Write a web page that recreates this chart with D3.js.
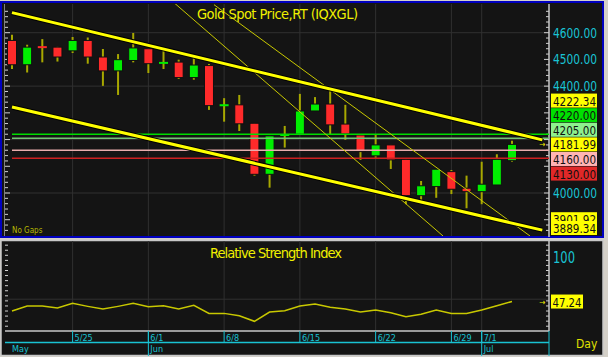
<!DOCTYPE html>
<html>
<head>
<meta charset="utf-8">
<script src="https://cdn.jsdelivr.net/npm/d3@7"></script>
<style>
  html, body { margin: 0; padding: 0; background: #d4d0c8; }
  svg { display: block; }
  text { font-family: "Liberation Sans Narrow", "Arial Narrow", "DejaVu Sans Condensed", sans-serif; }
</style>
</head>
<body>
<div id="chart"></div>
<script>
// ---- data ----
const dates = ["5/19","5/20","5/21","5/22","5/25","5/26","5/27","5/28","5/29",
  "6/1","6/2","6/3","6/4","6/5","6/8","6/9","6/10","6/11","6/12",
  "6/15","6/16","6/17","6/18","6/19","6/22","6/23","6/24","6/25","6/26",
  "6/29","6/30","7/1","7/2","7/3"];
const opens  = [4571,4480,4547,4546,4532,4571,4509,4457,4496,4540,4486,4490,4432,4477,4328,4330,4261,
  4070,4216,4220,4307,4333,4258,4217,4139,4180,4126,3990,4024,4080,4018,4005,4030,4121];
const highs  = [4592,4555,4576,4547,4584,4582,4539,4520,4599,4540,4536,4499,4509,4483,4355,4367,4261,
  4214,4251,4371,4359,4383,4330,4217,4217,4180,4126,4045,4089,4086,4065,4117,4145,4196];
const lows   = [4464,4451,4489,4492,4524,4484,4401,4367,4489,4449,4464,4427,4424,4311,4267,4232,4065,
  4020,4170,4220,4307,4218,4199,4124,4132,4090,3958,3971,3982,3996,3943,3958,4030,4117];
const closes = [4480,4546,4545,4509,4571,4509,4457,4499,4543,4484,4488,4432,4479,4327,4329,4259,4070,
  4214,4218,4307,4333,4255,4221,4155,4180,4124,3990,4027,4089,4014,4005,4033,4126,4181.99];
const rsi = [36.0,41.9,41.9,39.5,45.1,41.5,38.3,41.5,45.1,41.1,42.3,38.3,42.7,33.2,33.2,30.4,23.8,
  34.8,36.3,41.9,44.3,40.4,38.3,34.8,37.2,33.9,29.2,32.1,37.2,33.2,33.2,37.2,42.3,47.24];

const weekTicks = ["5/25","6/1","6/8","6/15","6/22","6/29","7/1"];
const monthNames = ["May","Jun","Jul"];
const monthStarts = ["5/19","6/1","7/1"];
const priceTicks = [3900,4000,4100,4200,4300,4400,4500,4600];
const priceGrid = [4000,4200,4400,4600];
const rsiTicks = [100];
const rsiGrid = [50];

// horizontal price levels
const levelValues = [4220, 4205, 4160, 4130];
const levelColors = ["#00dc00", "#74c474", "#e8acac", "#cc2020"];

// trend lines as [bar index, price] pairs
const trendThick = [[[0, 4675], [35, 4199]], [[0, 4322], [35, 3861]]];
const trendThin = [[[10.76, 4709], [28.45, 3839]], [[13.33, 4705], [34.19, 3839]]];

// right side value markers
const markerValues = [4222.34, 4220.00, 4205.00, 4181.99, 4160.00, 4130.00, 3901.92, 3889.34];
const markerColors = ["#ffff00", "#00e000", "#8ef08e", "#ffff00", "#ffb4b4", "#e02828", "#ffff00", "#ffff00"];
const anchorValue = 4181.99;

// ---- layout ----
const W = 608, H = 357;
const P = { left: 5, right: 549, top: 4, bottom: 236 };      // price panel plot
const R = { left: 5, right: 549, top: 241, bottom: 331 };    // rsi panel plot
const CYAN = "#19c3d3", YELLOW = "#f0f000", GRID = "#303030";
const fmt = d3.format(".2f");

const svg = d3.select("#chart").append("svg")
  .attr("width", W).attr("height", H);

svg.append("rect").attr("width", W).attr("height", H).attr("fill", "#d4d0c8");

// panels
svg.append("rect")
  .attr("x", 1).attr("y", 2).attr("width", 602).attr("height", 235)
  .attr("fill", "#141414").attr("stroke", "#0000c0").attr("stroke-width", 2);
svg.append("rect")
  .attr("x", 1).attr("y", 240.5).attr("width", 602).attr("height", 115)
  .attr("fill", "#141414").attr("stroke", "#c8c8c8").attr("stroke-width", 1.5);

// scales
const x = d3.scaleLinear().domain([0, dates.length - 1]).range([12, 512]);
const y = d3.scaleLinear().domain([4000, 4600]).range([193, 32.7]);
const yR = d3.scaleLinear().domain([50, 100]).range([299.2, 257]);
const xOf = d => x(dates.indexOf(d));

svg.append("clipPath").attr("id", "clipP").append("rect")
  .attr("x", P.left).attr("y", P.top).attr("width", P.right - P.left).attr("height", P.bottom - P.top);

// narrow value label (font is squeezed to the box width)
const valueText = (g, xx, yy, str, color, size, len) => g.append("text")
  .attr("x", xx).attr("y", yy).attr("font-size", size).attr("fill", color)
  .attr("textLength", len).attr("lengthAdjust", "spacingAndGlyphs")
  .text(str);

// ---- price panel ----
const gP = svg.append("g");

// grid
priceGrid.forEach(v => {
  gP.append("line")
    .attr("x1", P.left).attr("x2", P.right).attr("y1", y(v)).attr("y2", y(v))
    .attr("stroke", GRID).attr("stroke-width", 1);
});
weekTicks.forEach(d => {
  gP.append("line")
    .attr("x1", xOf(d)).attr("x2", xOf(d)).attr("y1", P.top).attr("y2", P.bottom)
    .attr("stroke", GRID).attr("stroke-width", 1);
  svg.append("line")
    .attr("x1", xOf(d)).attr("x2", xOf(d)).attr("y1", R.top).attr("y2", R.bottom)
    .attr("stroke", GRID).attr("stroke-width", 1);
});

// axis tick marks
const minor = d3.range(3840, 4701, 20);
minor.forEach(v => {
  const len = v % 100 === 0 ? 5 : 3;
  if (y(v) < P.top + 2 || y(v) > P.bottom - 1) return;
  gP.append("line").attr("x1", P.left).attr("x2", P.left + len)
    .attr("y1", y(v)).attr("y2", y(v)).attr("stroke", "#d0d0d0");
  gP.append("line").attr("x1", P.right - len).attr("x2", P.right)
    .attr("y1", y(v)).attr("y2", y(v)).attr("stroke", "#d0d0d0");
});
gP.append("line").attr("x1", P.right).attr("x2", P.right).attr("y1", P.top).attr("y2", P.bottom + 1)
  .attr("stroke", "#c8c8c8").attr("stroke-width", 1.5);
gP.append("line").attr("x1", P.left - 0.5).attr("x2", P.left - 0.5).attr("y1", P.top).attr("y2", P.bottom)
  .attr("stroke", "#808080");

const plot = gP.append("g").attr("clip-path", "url(#clipP)");

// candles
dates.forEach((d, i) => {
  const cx = x(i);
  const up = closes[i] >= opens[i];
  const color = up ? "#00ee00" : "#ff2a2a";
  plot.append("line")
    .attr("x1", cx).attr("x2", cx).attr("y1", y(highs[i])).attr("y2", y(lows[i]))
    .attr("stroke", "#a8a800").attr("stroke-width", 2);
  const top = y(Math.max(opens[i], closes[i]));
  const bot = y(Math.min(opens[i], closes[i]));
  if (bot - top < 2) {
    plot.append("rect")
      .attr("x", cx - 4.5).attr("y", (top + bot) / 2 - 1).attr("width", 9).attr("height", 2)
      .attr("fill", color);
  } else {
    plot.append("rect")
      .attr("x", cx - 4.5).attr("y", top).attr("width", 9).attr("height", bot - top)
      .attr("fill", color).attr("stroke", "#101010").attr("stroke-width", 1);
  }
});

// horizontal levels
levelValues.forEach((v, i) => {
  plot.append("line")
    .attr("x1", 12).attr("x2", P.right).attr("y1", y(v)).attr("y2", y(v))
    .attr("stroke", levelColors[i]).attr("stroke-width", 1.6);
});

// trend lines
const trendLine = d3.line().x(p => x(p[0])).y(p => y(p[1]));
trendThin.forEach(t => {
  plot.append("path").attr("d", trendLine(t))
    .attr("fill", "none").attr("stroke", "#c8c800").attr("stroke-width", 1);
});
trendThick.forEach(t => {
  plot.append("path").attr("d", trendLine(t))
    .attr("fill", "none").attr("stroke", "#000").attr("stroke-width", 5);
  plot.append("path").attr("d", trendLine(t))
    .attr("fill", "none").attr("stroke", "#ffff00").attr("stroke-width", 3);
});

// title & note
gP.append("text")
  .attr("x", 197).attr("y", 19).attr("font-size", 14.5).attr("fill", YELLOW)
  .attr("textLength", 161).attr("lengthAdjust", "spacing")
  .text("Gold Spot Price,RT (IQXGL)");
gP.append("text")
  .attr("x", 12).attr("y", 233).attr("font-size", 8).attr("fill", "#b8b800")
  .text("No Gaps");

// marker labels, stacked around the last price
const LH = 14.6;
const mY = markerValues.map(v => y(v));
const a = markerValues.indexOf(anchorValue);
for (let i = a - 1; i >= 0; i--) mY[i] = Math.min(mY[i], mY[i + 1] - LH);
for (let i = a + 1; i < mY.length; i++) mY[i] = Math.max(mY[i], mY[i - 1] + LH);
for (let i = 0; i < mY.length; i++) mY[i] = Math.min(mY[i], P.bottom - 8);

// price tick labels that are not covered by markers
priceTicks.forEach(v => {
  const ty = y(v);
  const hidden = mY.some(m => Math.abs(m - ty) < 14);
  if (hidden) return;
  valueText(gP, 553, ty + 5, fmt(v), CYAN, 14, 44);
});
markerValues.forEach((v, i) => {
  gP.append("rect")
    .attr("x", 551).attr("y", mY[i] - 7).attr("width", 46).attr("height", 14)
    .attr("fill", markerColors[i]);
  valueText(gP, 553, mY[i] + 5, fmt(v), "#101010", 13, 43);
});
gP.append("text")
  .attr("x", 539).attr("y", y(anchorValue) + 3).attr("font-size", 8).attr("fill", YELLOW)
  .text("→");

// ---- RSI panel ----
const gR = svg.append("g");
rsiGrid.forEach(v => {
  gR.append("line")
    .attr("x1", R.left).attr("x2", R.right).attr("y1", yR(v)).attr("y2", yR(v))
    .attr("stroke", GRID);
});
d3.range(18, 119, 6).forEach(v => {
  const ty = yR(v);
  if (ty < R.top + 2 || ty > R.bottom - 1) return;
  gR.append("line").attr("x1", R.left).attr("x2", R.left + 3)
    .attr("y1", ty).attr("y2", ty).attr("stroke", "#d0d0d0");
  gR.append("line").attr("x1", R.right - 3).attr("x2", R.right)
    .attr("y1", ty).attr("y2", ty).attr("stroke", "#d0d0d0");
});
gR.append("line").attr("x1", R.right).attr("x2", R.right).attr("y1", R.top).attr("y2", R.bottom)
  .attr("stroke", "#c8c8c8").attr("stroke-width", 1.5);
gR.append("line").attr("x1", R.left).attr("x2", R.right).attr("y1", R.bottom).attr("y2", R.bottom)
  .attr("stroke", "#c8c8c8").attr("stroke-width", 1.5);

gR.append("path")
  .datum(rsi)
  .attr("d", d3.line().x((v, i) => x(i)).y(v => yR(v)))
  .attr("fill", "none").attr("stroke", "#c8c800").attr("stroke-width", 1.5);

gR.append("text")
  .attr("x", 210).attr("y", 258).attr("font-size", 14.5).attr("fill", YELLOW)
  .attr("textLength", 132).attr("lengthAdjust", "spacing")
  .text("Relative Strength Index");

rsiTicks.forEach(v => {
  valueText(gR, 553, yR(v) + 5.5, String(v), CYAN, 15, 22);
});
const rLast = rsi[rsi.length - 1];
gR.append("rect")
  .attr("x", 551).attr("y", yR(rLast) - 7).attr("width", 32).attr("height", 14)
  .attr("fill", "#ffff00");
valueText(gR, 552.5, yR(rLast) + 5, fmt(rLast), "#101010", 13, 29);
gR.append("text")
  .attr("x", 539).attr("y", yR(rLast) + 3).attr("font-size", 8).attr("fill", YELLOW)
  .text("→");

// ---- date axis ----
const gX = svg.append("g");
weekTicks.forEach(d => {
  gX.append("line")
    .attr("x1", xOf(d)).attr("x2", xOf(d)).attr("y1", R.bottom).attr("y2", 342)
    .attr("stroke", CYAN);
  gX.append("text")
    .attr("x", xOf(d) + 2).attr("y", 341).attr("font-size", 9).attr("fill", CYAN)
    .text(d);
});
gX.append("line")
  .attr("x1", R.left).attr("x2", R.right).attr("y1", 342.5).attr("y2", 342.5)
  .attr("stroke", CYAN).attr("stroke-width", 1.5);
monthNames.forEach((m, i) => {
  const idx = dates.indexOf(monthStarts[i]);
  if (idx > 0) {
    gX.append("line")
      .attr("x1", x(idx)).attr("x2", x(idx)).attr("y1", R.bottom).attr("y2", 356)
      .attr("stroke", CYAN);
  }
  gX.append("text")
    .attr("x", x(idx) + (idx > 0 ? 2 : 0)).attr("y", 352).attr("font-size", 9).attr("fill", CYAN)
    .text(m);
});
gX.append("line")
  .attr("x1", R.right).attr("x2", R.right).attr("y1", R.bottom).attr("y2", 356)
  .attr("stroke", CYAN);
gX.append("text")
  .attr("x", 576).attr("y", 348).attr("font-size", 12).attr("fill", "#e0e000")
  .text("Day");
</script>
</body>
</html>
